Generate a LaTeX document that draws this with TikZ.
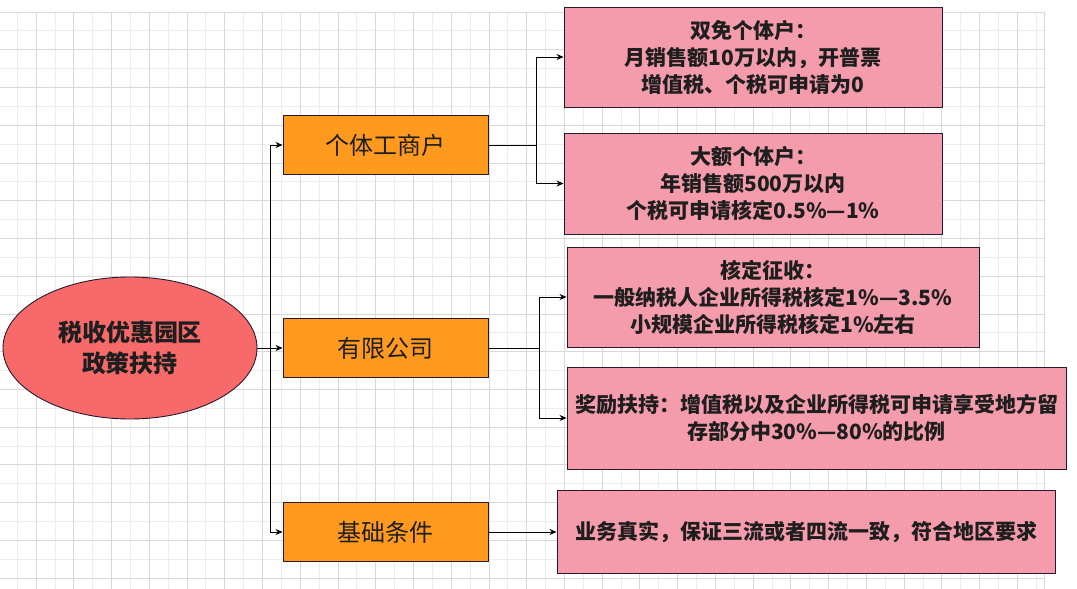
\documentclass[tikz,border=0pt]{standalone}
\usepackage{fontspec}
\setmainfont{Noto Sans CJK SC}
\usetikzlibrary{shapes.geometric,arrows.meta}
\definecolor{rootred}{RGB}{248,106,106}
\definecolor{boxorange}{RGB}{255,154,30}
\definecolor{boxpink}{RGB}{244,156,172}
\definecolor{edgeink}{RGB}{40,24,48}
\definecolor{txtink}{RGB}{30,30,30}
\definecolor{gridmaj}{RGB}{216,216,216}
\definecolor{gridmin}{RGB}{236,236,236}
\begin{document}
\begin{tikzpicture}[x=1pt,y=-1pt,
 cat/.style={draw=edgeink,line width=0.9pt,fill=boxorange,minimum width=205pt,minimum height=59pt,inner sep=0pt,font=\fontsize{24}{30}\selectfont,text=txtink},
 info/.style={draw=edgeink,line width=0.9pt,fill=boxpink,inner sep=0pt,align=center,font=\fontsize{21}{27}\selectfont\bfseries,text=txtink},
 link/.style={line width=0.9pt,-{Stealth[length=7pt,width=6pt]}}]
\useasboundingbox (0,0) rectangle (1077,589);
\foreach \k in {0,...,27} \draw[gridmin,line width=0.8pt] ({17.17+37.74*\k},12) -- ++(0,577);
\foreach \k in {0,...,14} \draw[gridmin,line width=0.8pt] (0,{30.87+37.74*\k}) -- ++(1044,0);
\foreach \k in {1,...,27} \draw[gridmaj,line width=0.8pt] ({-1.7+37.74*\k},12) -- ++(0,577);
\foreach \k in {0,...,15} \draw[gridmaj,line width=0.8pt] (0,{12+37.74*\k}) -- ++(1044,0);
\draw[gridmaj,line width=0.8pt] (1044,12) -- (1044,589);
\node[ellipse,draw=edgeink,line width=0.9pt,fill=rootred,minimum width=254pt,minimum height=142pt,inner sep=0pt,align=center,font=\fontsize{24}{31}\selectfont\bfseries,text=txtink] (root) at (130,348) {税收优惠园区\\政策扶持};
\node[cat] (gt) at (385.5,145) {个体工商户}; \node[cat] (yx) at (385.5,348) {有限公司}; \node[cat] (jc) at (385.5,532) {基础条件};
\node[info,minimum width=378pt,minimum height=100pt] (p1) at (753,57) {双免个体户：\\月销售额10万以内，开普票\\增值税、个税可申请为0};
\node[info,minimum width=378pt,minimum height=101pt] (p2) at (753,183.5) {大额个体户：\\年销售额500万以内\\个税可申请核定0.5\%—1\%};
\node[info,minimum width=412pt,minimum height=100pt] (p3) at (773,297) {核定征收：\\一般纳税人企业所得税核定1\%—3.5\%\\小规模企业所得税核定1\%左右};
\node[info,minimum width=499pt,minimum height=102pt] (p4) at (816.5,418) {奖励扶持：增值税以及企业所得税可申请享受地方留\\存部分中30\%—80\%的比例};
\node[info,minimum width=498pt,minimum height=83pt] (p5) at (806,532) {业务真实，保证三流或者四流一致，符合地区要求};
\draw[link] (root.east) -- ++(13,0) |- (gt.west); \draw[link] (root.east) -- (yx.west); \draw[link] (root.east) -- ++(13,0) |- (jc.west);
\draw[link] (gt.east) -- ++(48,0) |- (p1.west); \draw[link] (gt.east) -- ++(48,0) |- (p2.west);
\draw[link] (yx.east) -- ++(51,0) |- (p3.west); \draw[link] (yx.east) -- ++(51,0) |- (p4.west);
\draw[link] (jc.east) -- (p5.west);
\end{tikzpicture}
\end{document}
